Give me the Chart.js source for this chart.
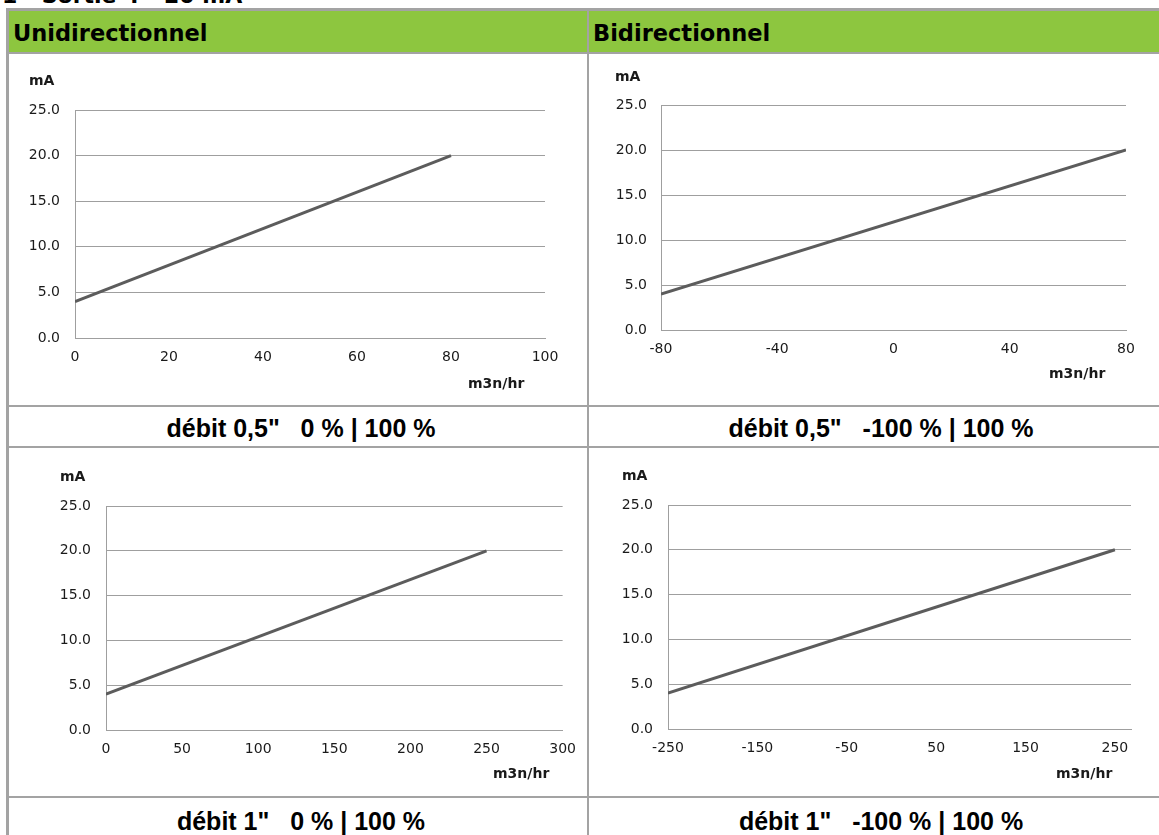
<!DOCTYPE html>
<html lang="fr">
<head>
<meta charset="UTF-8">
<title>Sortie 4 - 20 mA</title>
<script src="https://cdn.jsdelivr.net/npm/chart.js@4.4.1/dist/chart.umd.min.js"></script>
<style>
    html, body { margin: 0; padding: 0; background: #fff; }
    body { width: 1159px; height: 835px; overflow: hidden; position: relative; font-family: 'Liberation Sans', Arial, sans-serif; color: #000; }

    /* table rules */
    .rule { position: absolute; background: #a3a3a3; }
    .head { position: absolute; top: 11px; height: 41px; background: #8dc63f; }
    .head span { position: absolute; left: 4px; top: 11px; font: bold 22.5px/22px 'DejaVu Sans', sans-serif; white-space: pre; }

    .title { position: absolute; left: 2px; top: -15px; font: bold 22px/22px 'DejaVu Sans', sans-serif; white-space: pre; }
    .caption { position: absolute; width: 500px; text-align: center; font: bold 25px/25px 'Liberation Sans', Arial, sans-serif; white-space: pre; }
    .unit { position: absolute; font: bold 14px/16px 'DejaVu Sans', sans-serif; color: #1a1a1a; white-space: pre; }
    canvas { position: absolute; }
</style>
</head>
<body>
    <div class="title">1 - Sortie 4 - 20 mA</div>

    <!-- header row -->
    <div class="head" style="left:9px; width:578px;"><span>Unidirectionnel</span></div>
    <div class="head" style="left:589px; width:570px;"><span>Bidirectionnel</span></div>

    <!-- borders -->
    <div class="rule" style="left:6px; top:8px; width:1153px; height:3px;"></div>
    <div class="rule" style="left:6px; top:8px; width:3px; height:827px;"></div>
    <div class="rule" style="left:587px; top:11px; width:2px; height:824px;"></div>
    <div class="rule" style="left:9px; top:52px; width:1150px; height:2px;"></div>
    <div class="rule" style="left:9px; top:405px; width:1150px; height:2px;"></div>
    <div class="rule" style="left:9px; top:446px; width:1150px; height:2px;"></div>
    <div class="rule" style="left:9px; top:796px; width:1150px; height:2px;"></div>

    <!-- charts -->
    <canvas id="uni05" width="578" height="351" style="left:9px; top:54px;"></canvas>
    <canvas id="bi05" width="570" height="351" style="left:589px; top:54px;"></canvas>
    <canvas id="uni1" width="578" height="348" style="left:9px; top:448px;"></canvas>
    <canvas id="bi1" width="570" height="348" style="left:589px; top:448px;"></canvas>

    <!-- axis units -->
    <div class="unit" style="left:29px; top:72px;">mA</div>
    <div class="unit" style="left:468px; top:375px;">m3n/hr</div>
    <div class="unit" style="left:615px; top:68px;">mA</div>
    <div class="unit" style="left:1049px; top:365px;">m3n/hr</div>
    <div class="unit" style="left:60px; top:468px;">mA</div>
    <div class="unit" style="left:493px; top:765px;">m3n/hr</div>
    <div class="unit" style="left:622px; top:467px;">mA</div>
    <div class="unit" style="left:1056px; top:765px;">m3n/hr</div>

    <!-- captions -->
    <div class="caption" style="left:51px; top:416px;">débit 0,5"   0 % | 100 %</div>
    <div class="caption" style="left:631px; top:416px;">débit 0,5"   -100 % | 100 %</div>
    <div class="caption" style="left:51px; top:809px;">débit 1"   0 % | 100 %</div>
    <div class="caption" style="left:631px; top:809px;">débit 1"   -100 % | 100 %</div>

    <script>
        // y axis (mA), shared by the four charts
        const yTickValues = [0, 5, 10, 15, 20, 25];
        const yTickLabels = ['0.0', '5.0', '10.0', '15.0', '20.0', '25.0'];

        // débit 0,5" unidirectionnel
        const flowUni05 = [0, 80];
        const mAUni05 = [4, 20];
        const xRangeUni05 = [0, 100];
        const xTicksUni05 = [0, 20, 40, 60, 80, 100];
        const xLabelsUni05 = ['0', '20', '40', '60', '80', '100'];

        // débit 0,5" bidirectionnel
        const flowBi05 = [-80, 80];
        const mABi05 = [4, 20];
        const xRangeBi05 = [-80, 80];
        const xTicksBi05 = [-80, -40, 0, 40, 80];
        const xLabelsBi05 = ['-80', '-40', '0', '40', '80'];

        // débit 1" unidirectionnel
        const flowUni1 = [0, 250];
        const mAUni1 = [4, 20];
        const xRangeUni1 = [0, 300];
        const xTicksUni1 = [0, 50, 100, 150, 200, 250, 300];
        const xLabelsUni1 = ['0', '50', '100', '150', '200', '250', '300'];

        // débit 1" bidirectionnel
        const flowBi1 = [-250, 250];
        const mABi1 = [4, 20];
        const xRangeBi1 = [-250, 268];
        const xTicksBi1 = [-250, -150, -50, 50, 150, 250];
        const xLabelsBi1 = ['-250', '-150', '-50', '50', '150', '250'];

        const gridGrey = '#9f9f9f';
        const tickFont = { family: "'DejaVu Sans', sans-serif", size: 14 };

        // box: chart area inside the canvas (left, top, right, bottom), plus label paddings
        function drawChart(id, flow, mA, xRange, xTicks, xLabels, box) {
            const canvas = document.getElementById(id);
            return new Chart(canvas.getContext('2d'), {
                type: 'scatter',
                data: {
                    datasets: [{
                        data: flow.map((x, i) => ({ x: x, y: mA[i] })),
                        showLine: true,
                        borderColor: '#5c5c5c',
                        borderWidth: 3,
                        pointRadius: 0,
                        fill: false
                    }]
                },
                options: {
                    responsive: false,
                    animation: false,
                    events: [],
                    layout: { padding: { left: 0, top: box.top, right: canvas.width - box.right, bottom: 0 } },
                    plugins: { legend: { display: false }, tooltip: { enabled: false } },
                    scales: {
                        x: {
                            type: 'linear',
                            min: xRange[0],
                            max: xRange[1],
                            afterBuildTicks: s => { s.ticks = xTicks.map(v => ({ value: v })); },
                            afterFit: s => { s.height = canvas.height - box.bottom; },
                            grid: { display: false, drawTicks: false },
                            border: { display: true, color: gridGrey, width: 1 },
                            ticks: {
                                autoSkip: false, maxRotation: 0, minRotation: 0,
                                padding: box.xPad, font: tickFont, color: '#1a1a1a',
                                callback: (v, i) => xLabels[i]
                            }
                        },
                        y: {
                            min: 0,
                            max: 25,
                            afterBuildTicks: s => { s.ticks = yTickValues.map(v => ({ value: v })); },
                            afterFit: s => { s.width = box.left; },
                            grid: { color: gridGrey, lineWidth: 1, drawTicks: false },
                            border: { display: true, color: gridGrey, width: 1 },
                            ticks: {
                                padding: box.yPad, font: tickFont, color: '#1a1a1a',
                                callback: (v, i) => yTickLabels[i]
                            }
                        }
                    }
                }
            });
        }

        drawChart('uni05', flowUni05, mAUni05, xRangeUni05, xTicksUni05, xLabelsUni05,
            { left: 66, top: 56, right: 536, bottom: 284, xPad: 11, yPad: 15 });
        drawChart('bi05', flowBi05, mABi05, xRangeBi05, xTicksBi05, xLabelsBi05,
            { left: 72, top: 51, right: 537, bottom: 276, xPad: 11, yPad: 14 });
        drawChart('uni1', flowUni1, mAUni1, xRangeUni1, xTicksUni1, xLabelsUni1,
            { left: 97, top: 58, right: 559, bottom: 282, xPad: 11, yPad: 15 });
        drawChart('bi1', flowBi1, mABi1, xRangeBi1, xTicksBi1, xLabelsBi1,
            { left: 79, top: 57, right: 542, bottom: 281, xPad: 11, yPad: 15 });
    </script>
</body>
</html>
